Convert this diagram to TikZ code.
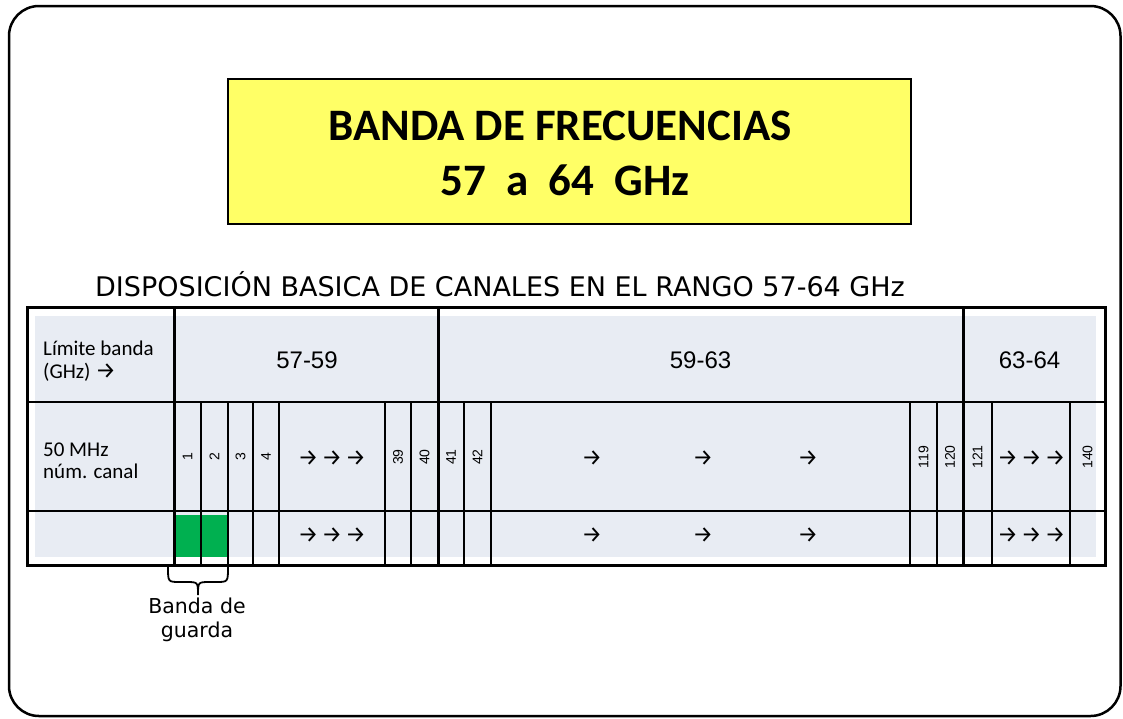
\documentclass[tikz,border=0pt]{standalone}
\usepackage{fontspec}
\setmainfont{Carlito}
\newfontfamily\dv{DejaVu Sans}
\newfontfamily\ar{Liberation Sans}
\newfontfamily\fa{Fira Sans}
\definecolor{cellfill}{RGB}{232,236,243}
\definecolor{titleyellow}{RGB}{255,255,102}
\definecolor{guardgreen}{RGB}{0,176,80}
\tikzset{
  thickline/.style={line width=3pt},
  thinline/.style={line width=1.8pt},
  chnum/.style={rotate=90, inner sep=0pt, font=\ar\fontsize{14}{14}\selectfont},
  rangelbl/.style={inner sep=0pt, font=\ar\fontsize{24}{24}\selectfont},
  leftlbl/.style={anchor=base west, inner sep=0pt, font=\fontsize{21}{21}\selectfont},
  arrowtxt/.style={inner sep=0pt, font=\fa\fontsize{23}{23}\selectfont},
  guardlbl/.style={anchor=base, inner sep=0pt, font=\dv\fontsize{20.5}{20.5}\selectfont},
  titletxt/.style={anchor=base, inner sep=0pt, font=\bfseries\fontsize{45}{45}\selectfont},
}
\newcommand{\arrgap}{\hspace{3pt}}
\begin{document}
\begin{tikzpicture}[x=1pt,y=-1pt]
\useasboundingbox (0,0) rectangle (1123,718);
% outer frame
\draw[line width=2.5pt, rounded corners=30pt] (9,6) rectangle (1120.5,716);
% title box
\node[draw, line width=2.5pt, fill=titleyellow, minimum width=683pt, minimum height=145pt, inner sep=0pt] (titlebox) at (569.5,151.5) {};
\node[titletxt] (title1) at (560,140) {BANDA DE FRECUENCIAS};
\node[titletxt] (title2) at (565,195) {57\ \ a\ \ 64\ \ GHz};
% subtitle
\node[anchor=base west, inner sep=0pt, font=\dv\fontsize{27}{27}\selectfont] (subtitle) at (95,296) {DISPOSICIÓN BASICA DE CANALES EN EL RANGO 57-64 GHz};
% table fill
\fill[cellfill] (35,316) rectangle (1096,557);
\fill[guardgreen] (175,515) rectangle (228,557);
% horizontal rules
\draw[thinline] (27,402) -- (1105,402);
\draw[thinline] (27,511) -- (1105,511);
% channel rules
\foreach \cx in {201,228,253,279,385,411,464,491,910,937,992,1070}
  \draw[thinline] (\cx,402) -- (\cx,565);
% band dividers
\foreach \cx in {174,438,963}
  \draw[thickline] (\cx,307) -- (\cx,565);
% table border
\draw[thickline] (27,307) rectangle (1105,565);
% header labels
\node[leftlbl] (lim1) at (43,355) {Límite banda};
\node[leftlbl] (lim2) at (43,378) {(GHz) {\fa\fontsize{23}{23}\selectfont →}};
\node[leftlbl] (mhz1) at (43,456) {50 MHz};
\node[leftlbl] (mhz2) at (43,478) {núm. canal};
\node[rangelbl] (r1) at (307,360) {57-59};
\node[rangelbl] (r2) at (700.5,360) {59-63};
\node[rangelbl] (r3) at (1029.5,360) {63-64};
% channel numbers
\foreach \cx/\n in {187.5/1,214.5/2,240.5/3,266/4,398/39,424.5/40,451/41,477.5/42,923.5/119,950/120,977.5/121,1087.5/140}
  \node[chnum] (ch\n) at (\cx,457) {\n};
% arrows
\foreach \ry/\r in {458/a,535/b}{
  \node[arrowtxt] (m1\r) at (332,\ry) {→\arrgap→\arrgap→};
  \node[arrowtxt] (m2\r) at (1031.5,\ry) {→\arrgap→\arrgap→};
  \node[arrowtxt] (s1\r) at (592,\ry) {→};
  \node[arrowtxt] (s2\r) at (703,\ry) {→};
  \node[arrowtxt] (s3\r) at (808,\ry) {→};
}
% guard band brace
\draw[line width=1.8pt] (168,567) .. controls (168,582) .. (180,582) -- (186,582) .. controls (198,582) .. (198,595) .. controls (198,582) .. (210,582) -- (216,582) .. controls (228,582) .. (228,567);
\node[guardlbl] (guard1) at (197,613) {Banda de};
\node[guardlbl] (guard2) at (197,637) {guarda};
\end{tikzpicture}
\end{document}
